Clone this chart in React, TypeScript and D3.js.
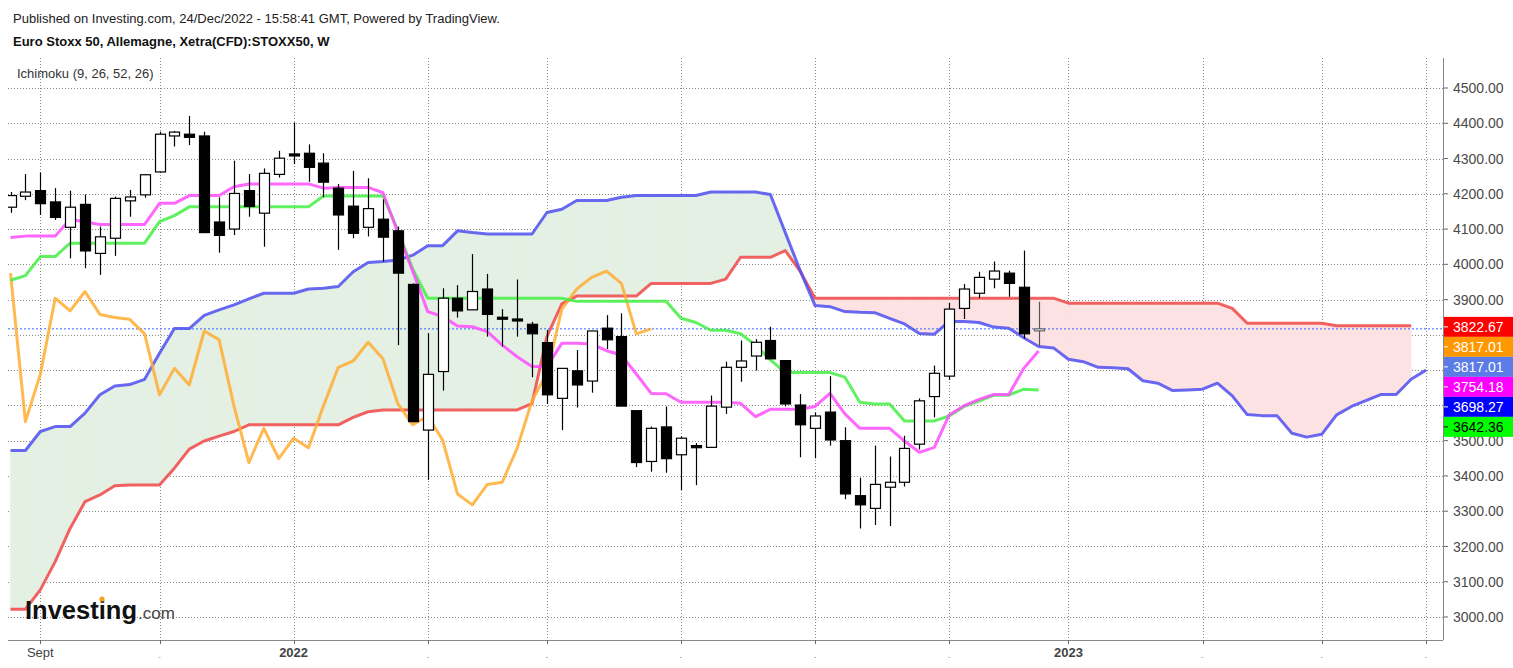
import React from "react"
import * as d3 from "d3"

// weekly bars, first one is the week of 23 Aug 2021
const firstWeek = new Date(Date.UTC(2021, 7, 23))
const projection = 26

const opens = [4162, 4193, 4209, 4177, 4105, 4170, 4031, 4074, 4180, 4197, 4262, 4364, 4369, 4364, 4120, 4100, 4209, 4145, 4255, 4313, 4315, 4287, 4216, 4165, 4105, 4128, 4095, 3943, 3530, 3696, 3904, 3871, 3930, 3850, 3845, 3830, 3778, 3620, 3698, 3669, 3819, 3795, 3585, 3441, 3539, 3460, 3486, 3481, 3595, 3708, 3740, 3784, 3727, 3601, 3535, 3581, 3500, 3344, 3308, 3368, 3382, 3490, 3625, 3683, 3875, 3918, 3958, 3975, 3935, 3812]
const highs = [4205, 4256, 4260, 4216, 4209, 4198, 4107, 4192, 4211, 4256, 4376, 4378, 4421, 4376, 4190, 4294, 4256, 4272, 4322, 4402, 4340, 4315, 4228, 4265, 4244, 4184, 4107, 3946, 3805, 3932, 3941, 4029, 3973, 3873, 3957, 3837, 3814, 3705, 3757, 3811, 3856, 3861, 3585, 3540, 3597, 3512, 3493, 3628, 3724, 3784, 3788, 3823, 3727, 3632, 3580, 3683, 3538, 3395, 3486, 3455, 3514, 3620, 3713, 3891, 3944, 3979, 4008, 3982, 4039, 3894]
const lows = [4146, 4182, 4140, 4126, 4017, 3989, 3970, 4024, 4135, 4189, 4260, 4334, 4338, 4090, 4033, 4083, 4135, 4050, 4246, 4284, 4234, 4190, 4041, 4074, 4079, 4008, 3771, 3552, 3389, 3642, 3849, 3871, 3795, 3767, 3795, 3680, 3604, 3530, 3594, 3636, 3760, 3598, 3425, 3412, 3409, 3360, 3374, 3481, 3576, 3667, 3699, 3732, 3597, 3453, 3450, 3486, 3334, 3251, 3261, 3258, 3370, 3475, 3566, 3672, 3845, 3904, 3932, 3908, 3790, 3768]
const closes = [4195, 4205, 4172, 4133, 4162, 4038, 4078, 4187, 4191, 4254, 4369, 4375, 4360, 4090, 4082, 4201, 4164, 4258, 4301, 4308, 4275, 4233, 4140, 4088, 4158, 4077, 3975, 3554, 3688, 3904, 3868, 3923, 3858, 3849, 3844, 3803, 3630, 3705, 3658, 3811, 3786, 3598, 3438, 3535, 3449, 3507, 3480, 3598, 3708, 3726, 3779, 3732, 3604, 3545, 3570, 3502, 3349, 3318, 3376, 3382, 3478, 3613, 3691, 3873, 3930, 3963, 3981, 3946, 3803, 3817.01]

// Ichimoku lines
const tenkan = [4076, 4080, 4080, 4080, 4128, 4120, 4113, 4113, 4113, 4113, 4173, 4173, 4195, 4195, 4195, 4220, 4228, 4228, 4228, 4228, 4228, 4216, 4218, 4218, 4218, 4203, 4090, 3980, 3866, 3852, 3825, 3823, 3809, 3771, 3738, 3710, 3710, 3776, 3776, 3774, 3755, 3743, 3689, 3634, 3633, 3609, 3609, 3609, 3609, 3606, 3568, 3589, 3589, 3589, 3597, 3634, 3576, 3535, 3535, 3535, 3499, 3467, 3481, 3573, 3599, 3617, 3631, 3631, 3705, 3754]
const kijun = [3955, 3968, 4022, 4022, 4060, 4060, 4060, 4060, 4060, 4060, 4121, 4138, 4163, 4163, 4163, 4163, 4163, 4163, 4163, 4163, 4163, 4194, 4194, 4194, 4194, 4194, 4096, 3986, 3904, 3904, 3904, 3904, 3904, 3904, 3904, 3904, 3904, 3904, 3895, 3895, 3895, 3895, 3895, 3895, 3895, 3847, 3835, 3813, 3813, 3803, 3771, 3729, 3693, 3693, 3693, 3693, 3680, 3609, 3604, 3604, 3556, 3556, 3556, 3570, 3597, 3612, 3629, 3629, 3646, 3644]
const senkouA = [3472, 3472, 3526, 3540, 3540, 3578, 3630, 3655, 3659, 3674, 3748, 3818, 3818, 3855, 3871, 3885, 3902, 3918, 3918, 3918, 3930, 3932, 3937, 3979, 4005, 4008, 4012, 4026, 4053, 4053, 4095, 4090, 4086, 4086, 4086, 4086, 4147, 4156, 4181, 4181, 4181, 4190, 4195, 4195, 4195, 4195, 4195, 4205, 4205, 4205, 4205, 4198, 4090, 3982, 3883, 3880, 3866, 3864, 3863, 3847, 3831, 3804, 3802, 3838, 3838, 3835, 3822, 3819, 3792, 3767, 3763, 3731, 3724, 3708, 3707, 3704, 3670, 3663, 3642, 3644, 3646, 3663, 3627, 3574, 3571, 3571, 3521, 3510, 3518, 3573, 3597, 3614, 3631, 3631, 3674, 3700]
const senkouB = [3022, 3022, 3077, 3157, 3251, 3327, 3346, 3372, 3374, 3374, 3374, 3422, 3476, 3499, 3513, 3526, 3545, 3545, 3545, 3545, 3545, 3545, 3545, 3566, 3582, 3587, 3587, 3587, 3587, 3587, 3587, 3587, 3587, 3587, 3587, 3605, 3795, 3888, 3910, 3910, 3910, 3910, 3910, 3946, 3946, 3946, 3946, 3946, 3958, 4020, 4020, 4020, 4039, 3980, 3904, 3904, 3904, 3904, 3904, 3904, 3904, 3904, 3904, 3904, 3904, 3904, 3904, 3904, 3904, 3904, 3904, 3890, 3890, 3890, 3890, 3890, 3890, 3890, 3890, 3890, 3890, 3890, 3875, 3833, 3833, 3833, 3833, 3833, 3833, 3826, 3826, 3826, 3826, 3826, 3826]

const tickDates = ["2021-09-06", "2021-11-01", "2022-01-03", "2022-03-07", "2022-05-02", "2022-07-04", "2022-09-05", "2022-11-07", "2023-01-02", "2023-03-06", "2023-05-01", "2023-06-19"]
const tickLabels = ["Sept", "-", "2022", "-", "-", "-", "-", "-", "2023", "-", "-", "-"]

const lastValues = [3822.67, 3817.01, 3817.01, 3754.18, 3698.27, 3642.36]
const lastColors = ["#ff0000", "#ff9800", "#5b7be6", "#ff00ff", "#0000ff", "#00ff00"]
const lastTextColors = ["#fff", "#fff", "#fff", "#fff", "#fff", "#000"]

const W = 1513
const H = 668
const plot = { left: 8, right: 1443, top: 58, bottom: 640 }
const font = "'Liberation Sans', Arial, sans-serif"

const dateAt = (i: number) => d3.utcMonday.offset(firstWeek, i)

export default function App() {
  const lastIndex = closes.length - 1 + projection
  const x = d3.scaleUtc().domain([firstWeek, dateAt(lastIndex)]).range([10.5, 1426])
  const y = d3.scaleLinear().domain([3000, 4500]).range([617, 88])
  const xi = (i: number) => x(dateAt(i))

  const line = d3.line<number>().x((d, i) => xi(i)).y(d => y(d))
  const poly = d3.line<[number, number]>()
  const chikou = closes.slice(26)

  // cloud pieces between the two leading spans, split where they cross
  const cloud: { d: string; up: boolean }[] = []
  for (let i = 0; i < senkouA.length - 1; i++) {
    const a0 = senkouA[i], a1 = senkouA[i + 1], b0 = senkouB[i], b1 = senkouB[i + 1]
    const x0 = xi(i), x1 = xi(i + 1)
    const d0 = a0 - b0, d1 = a1 - b1
    if (d0 * d1 >= 0) {
      if (d0 === 0 && d1 === 0) continue
      cloud.push({ d: poly([[x0, y(a0)], [x1, y(a1)], [x1, y(b1)], [x0, y(b0)]]) + "Z", up: d0 + d1 > 0 })
    } else {
      const t = d0 / (d0 - d1)
      const xm = x0 + t * (x1 - x0)
      const pm = a0 + t * (a1 - a0)
      cloud.push({ d: poly([[x0, y(a0)], [xm, y(pm)], [x0, y(b0)]]) + "Z", up: d0 > 0 })
      cloud.push({ d: poly([[xm, y(pm)], [x1, y(a1)], [x1, y(b1)]]) + "Z", up: d1 > 0 })
    }
  }

  const gridX = tickDates.map(s => x(d3.utcParse("%Y-%m-%d")(s) as Date))
  const levels = y.ticks(15)

  // stack the last-value labels so they do not overlap
  const labelY: number[] = []
  lastValues.forEach((v, k) => {
    let yy = y(v)
    if (k > 0 && yy < labelY[k - 1] + 20) yy = labelY[k - 1] + 20
    labelY.push(yy)
  })
  const hidden = (v: number) => labelY.some(ly => Math.abs(y(v) - ly) < 12)

  const bodyW = 10
  const lineStyle = { fill: "none", strokeWidth: 3, strokeLinejoin: "round" as const, opacity: 0.85 }

  return (
    <svg width={W} height={H} style={{ position: "fixed", left: 0, top: 0, background: "#fff" }} fontFamily={font}>
      <defs>
        <clipPath id="plotClip">
          <rect x={plot.left} y={plot.top} width={plot.right - plot.left} height={plot.bottom - plot.top} />
        </clipPath>
      </defs>

      <text x={13} y={23} fontSize={13} fill="#222">Published on Investing.com, 24/Dec/2022 - 15:58:41 GMT, Powered by TradingView.</text>
      <text x={13} y={46} fontSize={13} fontWeight="bold" fill="#111">Euro Stoxx 50, Allemagne, Xetra(CFD):STOXX50, W</text>

      {/* grid */}
      <g stroke="#8a8a8a" strokeDasharray="1 2" strokeWidth={1}>
        {gridX.map((gx, k) => (
          <line key={"v" + k} x1={Math.round(gx) + 0.5} x2={Math.round(gx) + 0.5} y1={plot.top} y2={plot.bottom} />
        ))}
        {levels.map(v => (
          <line key={"h" + v} x1={plot.left} x2={plot.right} y1={Math.round(y(v)) + 0.5} y2={Math.round(y(v)) + 0.5} />
        ))}
      </g>

      <text x={17} y={78} fontSize={13} fill="#333">Ichimoku (9, 26, 52, 26)</text>

      <g clipPath="url(#plotClip)">
        {/* cloud */}
        {cloud.map((c, k) => (
          <path key={"c" + k} d={c.d} fill={c.up ? "#e3f0e3" : "#fde2e4"} stroke={c.up ? "#e3f0e3" : "#fde2e4"} strokeWidth={0.6} />
        ))}
        <path d={line(senkouB) || ""} stroke="#f04848" {...lineStyle} />
        <path d={line(senkouA) || ""} stroke="#4f4ff0" {...lineStyle} />

        {/* current price */}
        <line x1={plot.left} x2={plot.right} y1={y(closes[closes.length - 1])} y2={y(closes[closes.length - 1])} stroke="#3366ff" strokeDasharray="2 2" strokeWidth={1} />

        <path d={line(chikou) || ""} stroke="#ffad33" {...lineStyle} />
        <path d={line(kijun) || ""} stroke="#44ee44" {...lineStyle} />
        <path d={line(tenkan) || ""} stroke="#ff4cff" {...lineStyle} />

        {/* candles */}
        {closes.map((c, i) => {
          const o = opens[i]
          const cx = Math.round(xi(i)) + 0.5
          const top = y(Math.max(o, c))
          const h = Math.max(2, y(Math.min(o, c)) - top)
          const up = c >= o
          const last = i === closes.length - 1
          return (
            <g key={i}>
              <line x1={cx} x2={cx} y1={y(highs[i])} y2={y(lows[i])} stroke={last ? "#555" : "#000"} strokeWidth={1.2} />
              <rect x={cx - bodyW / 2} y={top} width={bodyW} height={h} fill={up ? "#fff" : "#000"} stroke={last ? "#666" : "#000"} strokeWidth={1.2} />
            </g>
          )
        })}
      </g>

      {/* axes */}
      <line x1={plot.right + 0.5} x2={plot.right + 0.5} y1={plot.top} y2={plot.bottom} stroke="#888" />
      <line x1={plot.left} x2={plot.right} y1={plot.bottom + 0.5} y2={plot.bottom + 0.5} stroke="#888" />
      {levels.map(v => (
        <g key={"yl" + v}>
          <line x1={plot.right + 1} x2={plot.right + 5} y1={y(v)} y2={y(v)} stroke="#666" />
          {!hidden(v) && <text x={1453} y={y(v)} dy="0.36em" fontSize={14} fill="#4a4a4a">{v.toFixed(2)}</text>}
        </g>
      ))}
      {gridX.map((gx, k) => (
        <g key={"xl" + k}>
          <line x1={Math.round(gx) + 0.5} x2={Math.round(gx) + 0.5} y1={plot.bottom} y2={plot.bottom + 4} stroke="#666" />
          {tickLabels[k] === "-" ? (
            <line x1={gx - 1} x2={gx + 1} y1={657.5} y2={657.5} stroke="#bbb" />
          ) : (
            <text x={gx} y={657} textAnchor="middle" fontSize={13} fill="#444" fontWeight={tickLabels[k].startsWith("20") ? "bold" : "normal"}>{tickLabels[k]}</text>
          )}
        </g>
      ))}

      {/* last value labels */}
      {lastValues.map((v, k) => (
        <g key={"lv" + k}>
          <rect x={plot.right + 1} y={labelY[k] - 10} width={W - plot.right} height={20} fill={lastColors[k]} />
          <line x1={plot.right + 1} x2={plot.right + 5} y1={labelY[k]} y2={labelY[k]} stroke={lastTextColors[k]} />
          <text x={1453} y={labelY[k]} dy="0.36em" fontSize={14} fill={lastTextColors[k]}>{v.toFixed(2)}</text>
        </g>
      ))}

      {/* logo */}
      <text x={25} y={619} fontSize={25} fontWeight="bold" fill="#111" textLength={112} lengthAdjust="spacingAndGlyphs">Investing</text>
      <circle cx={102} cy={599} r={2.6} fill="#f7a21b" />
      <text x={138} y={619} fontSize={17} fill="#444">.com</text>
    </svg>
  )
}
